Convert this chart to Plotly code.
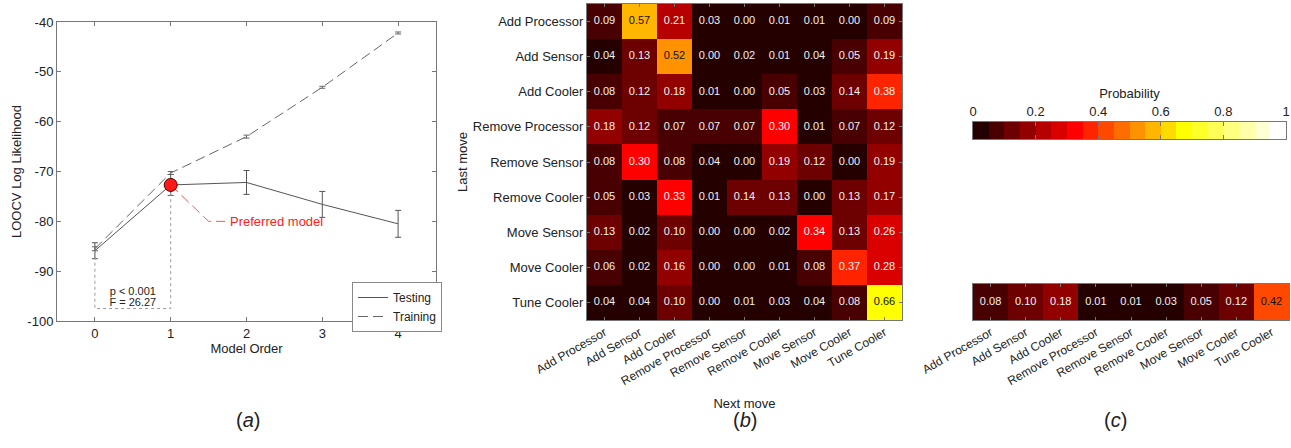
import numpy as np
import plotly.graph_objects as go

# ---------------- data ----------------
model_order = [0, 1, 2, 3, 4]
testing_mean = [-85.9, -72.7, -72.2, -76.6, -80.5]
testing_err = [1.6, 2.1, 2.4, 2.6, 2.7]
training_mean = [-85.5, -70.3, -63.0, -53.1, -42.2]
training_err = [0.4, 0.3, 0.3, 0.2, 0.2]
preferred_order = 1
p_floor = -97.5
stat_text = ["p < 0.001", "F = 26.27"]
stat_y = [-94.3, -96.4]
callout_x = [1.0, 1.5, 1.72]
callout_y = [-72.7, -80.0, -80.0]
y_ticks = [-100, -90, -80, -70, -60, -50, -40]

moves = ["Add Processor", "Add Sensor", "Add Cooler", "Remove Processor",
         "Remove Sensor", "Remove Cooler", "Move Sensor", "Move Cooler", "Tune Cooler"]

transition = [
    [0.09, 0.57, 0.21, 0.03, 0.00, 0.01, 0.01, 0.00, 0.09],
    [0.04, 0.13, 0.52, 0.00, 0.02, 0.01, 0.04, 0.05, 0.19],
    [0.08, 0.12, 0.18, 0.01, 0.00, 0.05, 0.03, 0.14, 0.38],
    [0.18, 0.12, 0.07, 0.07, 0.07, 0.30, 0.01, 0.07, 0.12],
    [0.08, 0.30, 0.08, 0.04, 0.00, 0.19, 0.12, 0.00, 0.19],
    [0.05, 0.03, 0.33, 0.01, 0.14, 0.13, 0.00, 0.13, 0.17],
    [0.13, 0.02, 0.10, 0.00, 0.00, 0.02, 0.34, 0.13, 0.26],
    [0.06, 0.02, 0.16, 0.00, 0.00, 0.01, 0.08, 0.37, 0.28],
    [0.04, 0.04, 0.10, 0.00, 0.01, 0.03, 0.04, 0.08, 0.66],
]
marginal = [0.08, 0.10, 0.18, 0.01, 0.01, 0.03, 0.05, 0.12, 0.42]

n_levels = 20
cbar_ticks = [0, 0.2, 0.4, 0.6, 0.8, 1]

# ---------------- colormap (MATLAB hot, 20 levels) ----------------
def hot(n):
    n1 = int(3 * n / 8)
    n2 = n1
    n3 = n - n1 - n2
    r = np.concatenate([np.arange(1, n1 + 1) / n1, np.ones(n - n1)])
    g = np.concatenate([np.zeros(n1), np.arange(1, n2 + 1) / n2, np.ones(n3)])
    b = np.concatenate([np.zeros(n1 + n2), np.arange(1, n3 + 1) / n3])
    return [f"rgb({int(round(rr*255))},{int(round(gg*255))},{int(round(bb*255))})"
            for rr, gg, bb in zip(r, g, b)]

cols = hot(n_levels)
colorscale = []
for k, c in enumerate(cols):
    colorscale.append([k / n_levels, c])
    colorscale.append([(k + 1) / n_levels, c])

cbar_levels = [(k + 0.5) / n_levels for k in range(n_levels)]

FONT = "Liberation Sans, Arial, Helvetica, sans-serif"
TXT = "#222"
AX = "#777"

fig = go.Figure()

# ---------------- panel (a) ----------------
fig.add_trace(go.Scatter(
    x=model_order, y=testing_mean, mode="lines", name="Testing",
    line=dict(color="#555", width=1),
    error_y=dict(type="data", array=testing_err, color="#555", thickness=1, width=3),
    xaxis="x", yaxis="y"))
fig.add_trace(go.Scatter(
    x=model_order, y=training_mean, mode="lines", name="Training",
    line=dict(color="#666", width=1, dash="10px,5px"),
    error_y=dict(type="data", array=training_err, color="#666", thickness=1, width=3),
    xaxis="x", yaxis="y"))
# dotted significance bracket
fig.add_trace(go.Scatter(
    x=[model_order[0], model_order[0], model_order[preferred_order], model_order[preferred_order]],
    y=[testing_mean[0], p_floor, p_floor, testing_mean[preferred_order]],
    mode="lines", line=dict(color="#999", width=1, dash="dot"),
    showlegend=False, hoverinfo="skip", xaxis="x", yaxis="y"))
fig.add_trace(go.Scatter(
    x=[(model_order[0] + model_order[preferred_order]) / 2] * 2, y=stat_y,
    mode="text", text=stat_text, textfont=dict(size=11, color=TXT, family=FONT),
    showlegend=False, hoverinfo="skip", xaxis="x", yaxis="y"))
# callout
fig.add_trace(go.Scatter(
    x=callout_x, y=callout_y, mode="lines",
    line=dict(color="#ff5555", width=1, dash="10px,5px"),
    showlegend=False, hoverinfo="skip", xaxis="x", yaxis="y"))
fig.add_trace(go.Scatter(
    x=[model_order[preferred_order]], y=[testing_mean[preferred_order]], mode="markers",
    marker=dict(size=13, color="#ff1a1a", line=dict(color="#550000", width=1)),
    showlegend=False, hoverinfo="skip", xaxis="x", yaxis="y"))
fig.add_annotation(x=callout_x[-1] + 0.03, y=callout_y[-1], xref="x", yref="y",
                   text="Preferred model", showarrow=False, xanchor="left",
                   font=dict(size=13, color="#ff2020", family=FONT))

# ---------------- panel (b) ----------------
fig.add_trace(go.Heatmap(
    z=transition, x=moves, y=moves, colorscale=colorscale, zmin=0, zmax=1,
    showscale=False, xgap=0, ygap=0, xaxis="x2", yaxis="y2", hoverinfo="skip"))
tx, ty, tt, tc = [], [], [], []
for i, row in enumerate(transition):
    for j, v in enumerate(row):
        tx.append(moves[j]); ty.append(moves[i]); tt.append(f"{v:.2f}")
        tc.append("#111" if v > 0.4 else "#f2f2f2")
fig.add_trace(go.Scatter(
    x=tx, y=ty, text=tt, mode="text", textfont=dict(size=11, color=tc, family=FONT),
    showlegend=False, hoverinfo="skip", xaxis="x2", yaxis="y2"))

# ---------------- colorbar (own axes) ----------------
fig.add_trace(go.Heatmap(
    z=[cbar_levels], x=cbar_levels, y=[0], colorscale=colorscale, zmin=0, zmax=1,
    showscale=False, xaxis="x4", yaxis="y4", hoverinfo="skip"))

# ---------------- panel (c) ----------------
fig.add_trace(go.Heatmap(
    z=[marginal], x=moves, y=["all"], colorscale=colorscale, zmin=0, zmax=1,
    showscale=False, xaxis="x3", yaxis="y3", hoverinfo="skip"))
fig.add_trace(go.Scatter(
    x=moves, y=["all"] * len(moves), text=[f"{v:.2f}" for v in marginal], mode="text",
    textfont=dict(size=11, color=["#111" if v > 0.4 else "#f2f2f2" for v in marginal],
                  family=FONT),
    showlegend=False, hoverinfo="skip", xaxis="x3", yaxis="y3"))

# ---------------- layout ----------------
def W(px):
    return px / 1291

def H(py):
    return 1 - py / 448

common = dict(showgrid=False, zeroline=False, showline=True, linecolor=AX, linewidth=1,
              mirror="ticks", ticks="inside", tickcolor=AX, ticklen=4, automargin=False,
              tickfont=dict(size=13, color=TXT, family=FONT))

fig.update_layout(
    template="none",
    width=1291, height=448, margin=dict(l=0, r=0, t=0, b=0, pad=0),
    paper_bgcolor="white", plot_bgcolor="white",
    font=dict(family=FONT, color=TXT, size=13),
    showlegend=True,
    legend=dict(x=W(352), y=H(282), xanchor="left", yanchor="top",
                bordercolor="#888", borderwidth=1, bgcolor="white",
                font=dict(size=12, color=TXT, family=FONT), tracegroupgap=0),
    xaxis=dict(domain=[W(57), W(436)], range=[-0.5, 4.5], tickvals=model_order,
               title=dict(text="Model Order", standoff=4, font=dict(size=13)), **common),
    yaxis=dict(domain=[H(321), H(22)], range=[-100, -40], tickvals=y_ticks,
               ticktext=[str(t) for t in y_ticks],
               title=dict(text="LOOCV Log Likelihood", standoff=2, font=dict(size=13)), **common),
    xaxis2=dict(domain=[W(587), W(902)], tickangle=-30, anchor="y2",
                title=dict(text="Next move", standoff=11, font=dict(size=13)),
                **{**common, "tickfont": dict(size=12, color=TXT, family=FONT), "ticklen": 3}),
    yaxis2=dict(domain=[H(320), H(4)], autorange="reversed", anchor="x2",
                title=dict(text="Last move", standoff=2, font=dict(size=13)),
                **{**common, "ticklen": 3}),
    xaxis3=dict(domain=[W(973), W(1289)], tickangle=-30, anchor="y3",
                **{**common, "tickfont": dict(size=12, color=TXT, family=FONT), "ticklen": 3}),
    yaxis3=dict(domain=[H(320), H(284)], anchor="x3", showticklabels=False,
                **{**common, "ticks": ""}),
    xaxis4=dict(domain=[W(973), W(1286)], range=[0, 1], side="top", anchor="y4",
                tickvals=cbar_ticks, ticktext=[f"{t:g}" for t in cbar_ticks],
                title=dict(text="Probability", standoff=2, font=dict(size=13)),
                **{**common, "ticklen": 4}),
    yaxis4=dict(domain=[H(139), H(122)], anchor="x4", showticklabels=False,
                **{**common, "ticks": ""}),
)

for label, px in [("a", 234), ("b", 745), ("c", 1129)]:
    fig.add_annotation(x=W(px), y=H(433), xref="paper", yref="paper",
                       text=f"(<i>{label}</i>)", showarrow=False,
                       font=dict(size=20, color=TXT, family=FONT))

fig.write_html("out.html", config={"displayModeBar": False},
               post_script="document.body.style.margin='0';document.body.style.overflow='hidden';")
